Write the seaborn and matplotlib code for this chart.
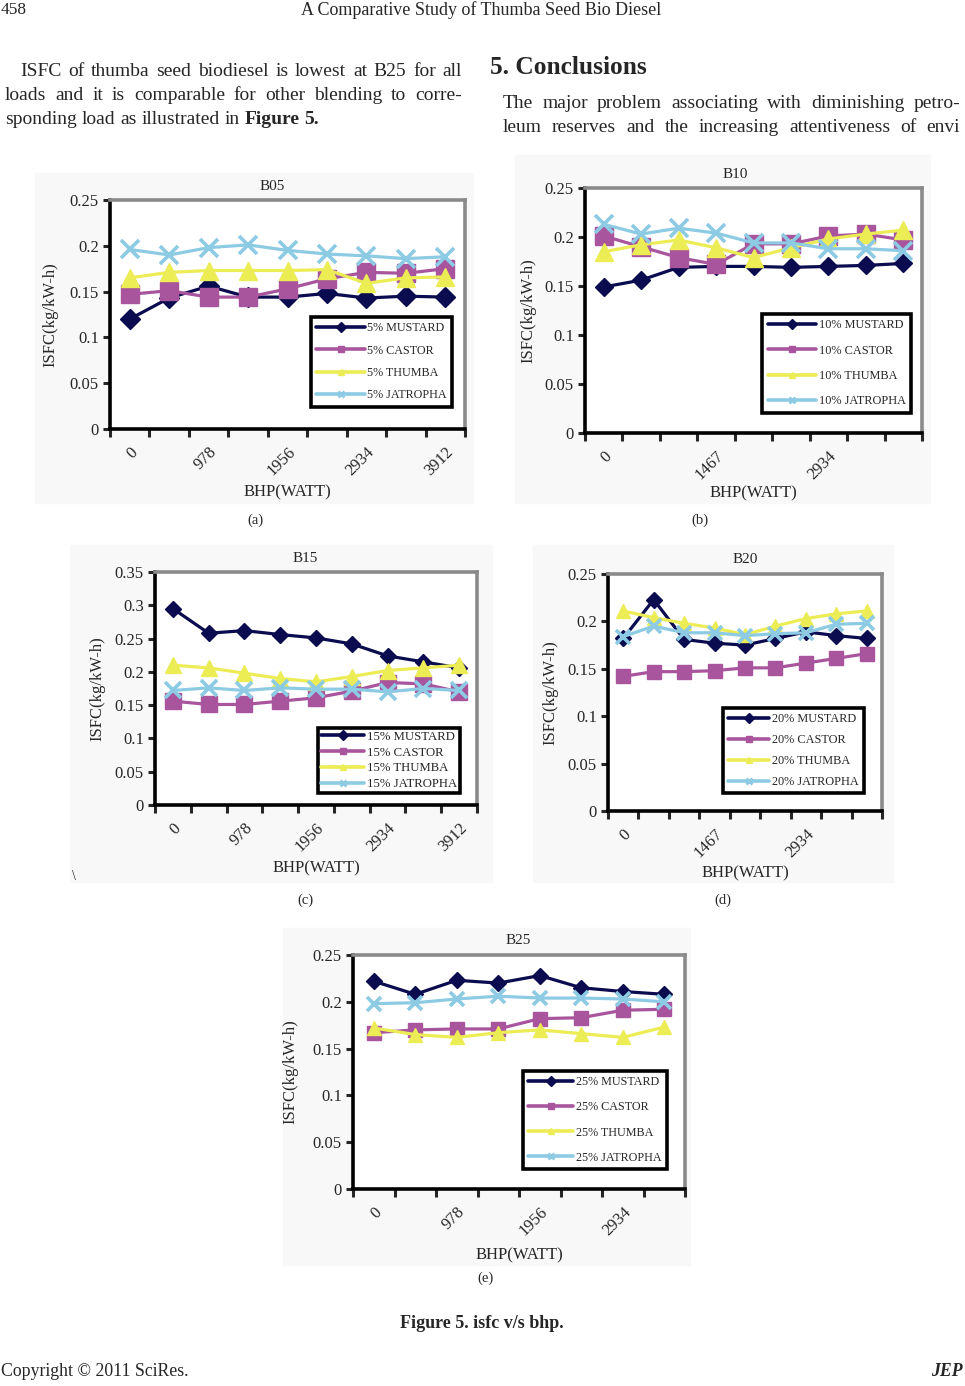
import numpy as np
import pandas as pd
import seaborn as sns
import matplotlib.pyplot as plt
from matplotlib.lines import Line2D
from matplotlib.patches import Rectangle

# ---------------- data (ISFC in kg/kW-h) ----------------
fuels = ['MUSTARD', 'CASTOR', 'THUMBA', 'JATROPHA']

b05_mustard = [0.120, 0.143, 0.156, 0.144, 0.144, 0.148, 0.143, 0.145, 0.144]
b05_castor = [0.147, 0.151, 0.144, 0.144, 0.153, 0.164, 0.171, 0.170, 0.175]
b05_thumba = [0.165, 0.171, 0.173, 0.173, 0.173, 0.174, 0.159, 0.165, 0.166]
b05_jatropha = [0.196, 0.190, 0.198, 0.201, 0.195, 0.191, 0.189, 0.186, 0.188]

b10_mustard = [0.149, 0.156, 0.169, 0.170, 0.170, 0.169, 0.170, 0.171, 0.173]
b10_castor = [0.201, 0.190, 0.179, 0.172, 0.193, 0.193, 0.201, 0.203, 0.197]
b10_thumba = [0.185, 0.192, 0.197, 0.189, 0.179, 0.189, 0.198, 0.203, 0.207]
b10_jatropha = [0.213, 0.203, 0.209, 0.204, 0.194, 0.194, 0.188, 0.188, 0.186]

b15_mustard = [0.295, 0.258, 0.262, 0.256, 0.251, 0.242, 0.224, 0.215, 0.206]
b15_castor = [0.156, 0.151, 0.151, 0.156, 0.161, 0.171, 0.184, 0.182, 0.170]
b15_thumba = [0.210, 0.206, 0.198, 0.190, 0.185, 0.193, 0.202, 0.206, 0.210]
b15_jatropha = [0.172, 0.176, 0.172, 0.176, 0.174, 0.174, 0.170, 0.175, 0.172]

b20_mustard = [0.182, 0.223, 0.181, 0.177, 0.175, 0.182, 0.189, 0.185, 0.182]
b20_castor = [0.142, 0.147, 0.147, 0.148, 0.151, 0.151, 0.156, 0.161, 0.166]
b20_thumba = [0.211, 0.204, 0.198, 0.193, 0.186, 0.195, 0.203, 0.208, 0.211]
b20_jatropha = [0.184, 0.195, 0.188, 0.188, 0.185, 0.187, 0.188, 0.197, 0.198]

b25_mustard = [0.222, 0.208, 0.223, 0.220, 0.228, 0.215, 0.211, 0.208]
b25_castor = [0.167, 0.170, 0.171, 0.171, 0.182, 0.183, 0.191, 0.192]
b25_thumba = [0.172, 0.165, 0.162, 0.167, 0.170, 0.166, 0.162, 0.173]
b25_jatropha = [0.198, 0.199, 0.203, 0.206, 0.204, 0.204, 0.203, 0.200]

bhp_labels_a = ['0', '978', '1956', '2934', '3912']
bhp_labels_b = ['0', '1467', '2934']
bhp_labels_e = ['0', '978', '1956', '2934']

# ---------------- style ----------------
sns.set_theme(style='white')
plt.rcParams['font.family'] = ['Liberation Serif', 'DejaVu Serif']
plt.rcParams['axes.linewidth'] = 2.2

W, H = 965, 1386
colors = {'MUSTARD': '#0b0b50', 'CASTOR': '#a8559e',
          'THUMBA': '#ecec55', 'JATROPHA': '#8ccbe3'}
markers = {'MUSTARD': 'D', 'CASTOR': 's', 'THUMBA': '^', 'JATROPHA': 'x'}

fig = plt.figure(figsize=(W / 100, H / 100), dpi=100)
renderer = fig.canvas.get_renderer()


def fx(x):
    return x / W


def fy(y):
    return 1 - y / H


def panel(box, bg, title, title_x, blend, series, tick_labels, step, ymax,
          ms, leg_xy, leg_fs, leg_ls, leg_bp, leg_hl, ylab_x, xlab_y):
    left, top, right, bottom = box
    fig.patches.append(Rectangle((fx(bg[0]), fy(bg[3])), fx(bg[2] - bg[0]),
                                 (bg[3] - bg[1]) / H, transform=fig.transFigure,
                                 color='#f8f8f8', zorder=-5))
    ax = fig.add_axes([fx(left), fy(bottom), fx(right - left), (bottom - top) / H])
    n = len(series[0])
    pos = np.arange(1, n + 1)
    df = pd.DataFrame({'pos': np.tile(pos, 4),
                       'isfc': np.concatenate(series),
                       'fuel': np.repeat(fuels, n)})
    for f in fuels:
        sub = df[df['fuel'] == f]
        m = markers[f]
        size = ms * (0.75 if m == 'D' else 1.0)
        sns.lineplot(data=sub, x='pos', y='isfc', ax=ax, color=colors[f],
                     marker=m, markersize=size, lw=2.3,
                     markeredgecolor=colors[f],
                     markeredgewidth=2.6 if m == 'x' else 1.0)
    ax.set_xlim(0.5, n + 0.5)
    ax.set_ylim(0, ymax)
    ax.set_yticks(np.arange(0, ymax + 0.001, 0.05))
    ax.set_yticklabels(['0'] + ['%g' % v for v in np.arange(0.05, ymax + 0.001, 0.05)],
                       fontsize=12)
    ax.set_xticks(np.arange(0.5, n + 1, 1.0))
    ax.set_xticklabels([])
    ax.set_xticks(np.arange(1, n + 1, step), minor=True)
    ax.set_xticklabels(tick_labels, minor=True, rotation=45, ha='right',
                       va='top', rotation_mode='anchor', fontsize=12)
    ax.tick_params(axis='x', which='major', direction='out', length=6, width=2.2,
                   bottom=True)
    ax.tick_params(axis='x', which='minor', length=0, pad=11)
    ax.tick_params(axis='y', direction='out', length=5, width=2.2, left=True, pad=3)
    for s in ['left', 'bottom']:
        ax.spines[s].set_color('black')
        ax.spines[s].set_linewidth(2.6)
    for s in ['top', 'right']:
        ax.spines[s].set_color('#8a8a8a')
        ax.spines[s].set_linewidth(2.6)
    ax.set_xlabel('BHP(WATT)', fontsize=12)
    ax.set_ylabel('ISFC(kg/kW-h)', fontsize=12)
    ax.yaxis.set_label_coords(-(left - ylab_x) / (right - left), 0.5)
    ax.xaxis.set_label_coords(0.5, -(xlab_y - bottom) / (bottom - top))
    ax.xaxis.label.set_va('center')
    ax.yaxis.label.set_va('center')
    fig.text(fx(title_x), fy(top - 14), title, ha='center', va='center', fontsize=11)

    handles = [Line2D([], [], color=colors[f], lw=2.6, marker=markers[f],
                      markersize=5, markeredgecolor=colors[f],
                      markeredgewidth=2 if markers[f] == 'x' else 1)
               for f in fuels]
    labels = ['%s %s' % (blend, f) for f in fuels]
    leg = ax.legend(handles, labels, loc='upper left',
                    bbox_to_anchor=(fx(leg_xy[0]), fy(leg_xy[1])),
                    bbox_transform=fig.transFigure, fontsize=leg_fs,
                    labelspacing=leg_ls, handlelength=leg_hl, handletextpad=0.2,
                    borderpad=leg_bp, borderaxespad=0, fancybox=False,
                    framealpha=1, edgecolor='black')
    leg.get_frame().set_linewidth(2.6)
    return ax


panel((110, 200, 465, 429), (35, 173, 473, 503), 'B05', 272, '5%',
      [b05_mustard, b05_castor, b05_thumba, b05_jatropha], bhp_labels_a, 2, 0.25,
      13, (311, 317), 8.7, 0.85, 0.45, 4.0, 50, 492)
panel((585, 188, 922, 433), (515, 155, 930, 503), 'B10', 735, '10%',
      [b10_mustard, b10_castor, b10_thumba, b10_jatropha], bhp_labels_b, 3, 0.25,
      12.5, (762, 314), 8.8, 1.08, 0.45, 4.0, 528, 493)
panel((155, 572, 477, 805), (70, 545, 492, 882), 'B15', 305, '15%',
      [b15_mustard, b15_castor, b15_thumba, b15_jatropha], bhp_labels_a, 2, 0.35,
      11.5, (318, 728), 9.2, 0.3, 0.22, 3.4, 97, 868)
panel((608, 574, 882, 811), (533, 545, 893, 882), 'B20', 745, '20%',
      [b20_mustard, b20_castor, b20_thumba, b20_jatropha], bhp_labels_b, 3, 0.25,
      10.5, (723, 708), 8.8, 0.75, 0.4, 3.4, 550, 873)
panel((353, 955, 685, 1189), (283, 928, 690, 1265), 'B25', 518, '25%',
      [b25_mustard, b25_castor, b25_thumba, b25_jatropha], bhp_labels_e, 2, 0.25,
      10.5, (523, 1071), 8.7, 1.08, 0.45, 3.7, 290, 1255)


# ---------------- page text ----------------
def text_line(parts, x0, y, size, x1=None):
    """parts: list of (word, bold); justified between x0 and x1 if x1 given"""
    objs = []
    for word, bold in parts:
        objs.append(fig.text(fx(x0), fy(y), word, fontsize=size, va='center',
                             ha='left', fontweight='bold' if bold else 'normal'))
    widths = [o.get_window_extent(renderer).width for o in objs]
    if x1 is None:
        gap = 0.25 * size * 100 / 72
    else:
        gap = (x1 - x0 - sum(widths)) / (len(objs) - 1)
    x = x0
    for o, w in zip(objs, widths):
        o.set_x(fx(x))
        x += w + gap


def words(s, bold=False):
    return [(w, bold) for w in s.split()]


body = 14
text_line(words('ISFC of thumba seed biodiesel is lowest at B25 for all'), 20, 72, body, 462)
text_line(words('loads and it is comparable for other blending to corre-'), 5, 96, body, 462)
text_line(words('sponding load as illustrated in') + words('Figure 5.', True), 5, 120, body)
text_line(words('The major problem associating with diminishing petro-'), 503, 103, body, 960)
text_line(words('leum reserves and the increasing attentiveness of envi'), 503, 127, body, 960)
fig.text(fx(490), fy(68), '5. Conclusions', fontsize=18.3, va='center', fontweight='bold')

fig.text(fx(1), fy(10), '458', fontsize=12.5, va='center', ha='left')
fig.text(fx(481), fy(10), 'A Comparative Study of Thumba Seed Bio Diesel',
         fontsize=13, va='center', ha='center')

for lab, x, y in [('(a)', 255, 520), ('(b)', 700, 520), ('(c)', 305, 900),
                  ('(d)', 723, 900), ('(e)', 485, 1278)]:
    fig.text(fx(x), fy(y), lab, fontsize=10.5, ha='center', va='center')
fig.text(fx(74), fy(876), '\\', fontsize=10, ha='center', va='center')

fig.text(fx(482), fy(1323), 'Figure 5. isfc v/s bhp.', fontsize=13, ha='center',
         va='center', fontweight='bold')
fig.text(fx(1), fy(1372), 'Copyright \u00a9 2011 SciRes.', fontsize=12.8, ha='left',
         va='center')
fig.text(fx(963), fy(1372), 'JEP', fontsize=12.8, ha='right', va='center',
         fontweight='bold', fontstyle='italic')

fig.savefig('out.png', dpi=100)
